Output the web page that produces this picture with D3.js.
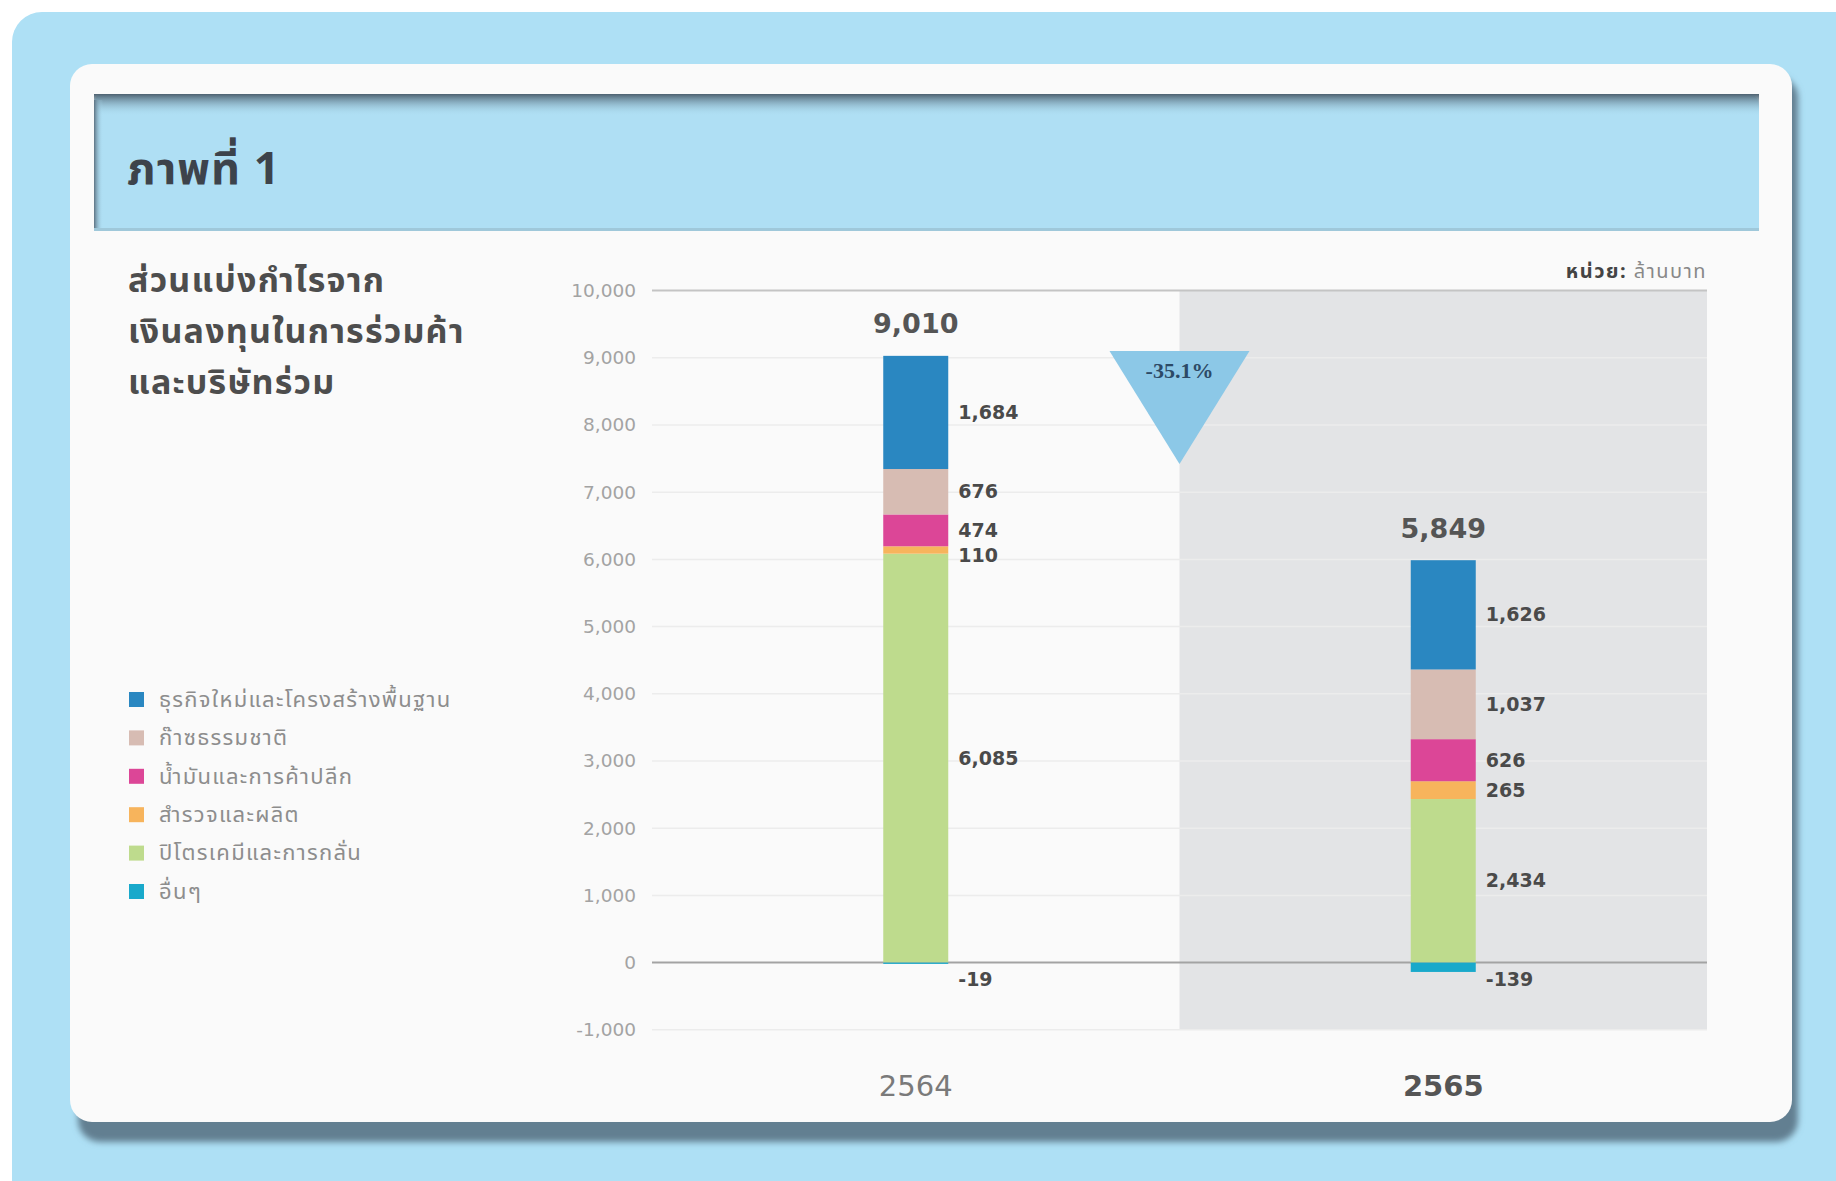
<!DOCTYPE html>
<html>
<head>
<meta charset="utf-8">
<script src="https://cdn.jsdelivr.net/npm/d3@7"></script>
<style>
  html, body { margin: 0; padding: 0; background: #ffffff; }
  svg { display: block; }
</style>
</head>
<body>
<div id="chart"></div>
<script>
// data (unit: million baht)
const years = ["2564", "2565"];
const segmentNames = [
  "ธุรกิจใหม่และโครงสร้างพื้นฐาน",
  "ก๊าซธรรมชาติ",
  "น้ำมันและการค้าปลีก",
  "สำรวจและผลิต",
  "ปิโตรเคมีและการกลั่น",
  "อื่นๆ"
];
const segmentColors = ["#2a87c1", "#d7bcb3", "#dc4697", "#f7b45c", "#bedb8d", "#19a9cb"];
const newBusiness = [1684, 1626];
const naturalGas = [676, 1037];
const oilRetail = [474, 626];
const exploration = [110, 265];
const petrochem = [6085, 2434];
const others = [-19, -139];
const totals = [9010, 5849];
const yTicks = [-1000, 0, 1000, 2000, 3000, 4000, 5000, 6000, 7000, 8000, 9000, 10000];

const W = 1836, H = 1181;
const plot = { left: 652, right: 1707, top: 290.6, bottom: 1029.8 };
const thai = "'Noto Sans Thai', 'Noto Sans', sans-serif";

const svg = d3.select("#chart").append("svg").attr("width", W).attr("height", H);
const defs = svg.append("defs");

// frame: outer blue, white card, header band
svg.append("rect").attr("x", 12).attr("y", 12).attr("width", 1860).attr("height", 1220)
  .attr("rx", 30).attr("fill", "#aee0f5");

const blur = defs.append("filter").attr("id", "blur").attr("x", "-5%").attr("y", "-5%").attr("width", "110%").attr("height", "110%");
blur.append("feGaussianBlur").attr("stdDeviation", 3);

svg.append("rect").attr("x", 78).attr("y", 76).attr("width", 1720).attr("height", 1066)
  .attr("rx", 22).attr("fill", "#627f91").attr("filter", "url(#blur)");
svg.append("rect").attr("x", 70).attr("y", 64).attr("width", 1722).attr("height", 1058)
  .attr("rx", 22).attr("fill", "#fafafa");

const topShade = defs.append("linearGradient").attr("id", "topShade").attr("x1", 0).attr("y1", 0).attr("x2", 0).attr("y2", 1);
topShade.append("stop").attr("offset", "0%").attr("stop-color", "#4d6170");
topShade.append("stop").attr("offset", "100%").attr("stop-color", "#afdff4").attr("stop-opacity", 0);
const leftShade = defs.append("linearGradient").attr("id", "leftShade").attr("x1", 0).attr("y1", 0).attr("x2", 1).attr("y2", 0);
leftShade.append("stop").attr("offset", "0%").attr("stop-color", "#5d7383");
leftShade.append("stop").attr("offset", "100%").attr("stop-color", "#afdff4").attr("stop-opacity", 0);

svg.append("path").attr("fill", "#afdff4")
  .attr("d", "M94,231 L94,104 Q94,94 104,94 L1747,94 Q1759,94 1759,106 L1759,231 Z");
svg.append("rect").attr("x", 94).attr("y", 94).attr("width", 1665).attr("height", 22).attr("fill", "url(#topShade)");
svg.append("rect").attr("x", 94).attr("y", 100).attr("width", 9).attr("height", 131).attr("fill", "url(#leftShade)");
svg.append("rect").attr("x", 94).attr("y", 228).attr("width", 1665).attr("height", 3).attr("fill", "#9fc8da");

svg.append("text").attr("x", 127).attr("y", 184)
  .attr("font-family", thai).attr("font-size", 45).attr("letter-spacing", 1)
  .attr("font-weight", "bold").attr("fill", "#3d434b").text("ภาพที่ 1");

// chart title
const titleLines = ["ส่วนแบ่งกำไรจาก", "เงินลงทุนในการร่วมค้า", "และบริษัทร่วม"];
svg.append("g").selectAll("text").data(titleLines).join("text")
  .attr("x", 128).attr("y", (d, i) => 292 + i * 51)
  .attr("font-family", thai).attr("font-size", 34).attr("letter-spacing", 1.2)
  .attr("font-weight", "bold").attr("fill", "#4d4d4d").text(d => d);

// legend
const legend = svg.append("g").selectAll("g").data(segmentNames).join("g")
  .attr("transform", (d, i) => `translate(129,${699 + i * 38.4})`);
legend.append("rect").attr("x", 0).attr("y", -7).attr("width", 15).attr("height", 15)
  .attr("fill", (d, i) => segmentColors[i]);
legend.append("text").attr("x", 30).attr("dy", "0.35em")
  .attr("font-family", thai).attr("font-size", 22).attr("letter-spacing", 1.3)
  .attr("fill", "#8d8d8d").text(d => d);

// scales
const x = d3.scaleBand().domain(years).range([plot.left, plot.right]).padding(0);
const y = d3.scaleLinear().domain([-1000, 10000]).range([plot.bottom, plot.top]);
const barW = 65;
const fmt = v => d3.format(",")(v).replace("\u2212", "-");

// shaded background for the latest year
svg.append("rect").attr("x", x("2565")).attr("y", y(10000))
  .attr("width", x.bandwidth()).attr("height", y(-1000) - y(10000)).attr("fill", "#e3e4e6");

// gridlines
svg.append("g").selectAll("line").data(yTicks).join("line")
  .attr("x1", plot.left).attr("x2", plot.right)
  .attr("y1", d => y(d)).attr("y2", d => y(d))
  .attr("stroke", d => d === 0 ? "#a3a3a3" : d === 10000 ? "#c4c4c4" : "#ececec")
  .attr("stroke-width", d => (d === 0 || d === 10000) ? 2 : 1.5);

// y axis labels
const yAxis = svg.append("g").attr("transform", `translate(${plot.left - 13},0)`)
  .call(d3.axisLeft(y).tickValues(yTicks).tickSize(0).tickFormat(fmt));
yAxis.select(".domain").remove();
yAxis.selectAll("text").attr("font-family", "'DejaVu Sans', sans-serif").attr("font-size", 18.5)
  .attr("fill", "#a3a3a3");

// stacked bars
const keys = ["petrochem", "exploration", "oilRetail", "naturalGas", "newBusiness", "others"];
const keyColor = {
  petrochem: segmentColors[4], exploration: segmentColors[3], oilRetail: segmentColors[2],
  naturalGas: segmentColors[1], newBusiness: segmentColors[0], others: segmentColors[5]
};
const rows = years.map((yr, i) => ({
  year: yr, petrochem: petrochem[i], exploration: exploration[i], oilRetail: oilRetail[i],
  naturalGas: naturalGas[i], newBusiness: newBusiness[i], others: others[i]
}));
const series = d3.stack().keys(keys).offset(d3.stackOffsetDiverging)(rows);

const cx = yr => x(yr) + x.bandwidth() / 2;

svg.append("g").selectAll("g").data(series).join("g")
  .attr("fill", s => keyColor[s.key])
  .selectAll("rect").data(s => s).join("rect")
  .attr("x", d => cx(d.data.year) - barW / 2)
  .attr("width", barW)
  .attr("y", d => y(Math.max(d[0], d[1])))
  .attr("height", d => Math.abs(y(d[0]) - y(d[1])));

// segment value labels, pushed apart so they do not overlap
years.forEach((yr, i) => {
  const labels = series.map(s => {
    const d = s[i];
    const v = d.data[s.key];
    let ly = y((d[0] + d[1]) / 2);
    if (v < 0) ly = Math.max(ly, y(0) + 17);
    return { v, ly };
  });
  const pos = labels.filter(l => l.v >= 0).sort((a, b) => a.ly - b.ly);
  for (let k = 1; k < pos.length; k++) {
    if (pos[k].ly - pos[k - 1].ly < 25) pos[k].ly = pos[k - 1].ly + 25;
  }
  svg.append("g").selectAll("text").data(labels).join("text")
    .attr("x", cx(yr) + barW / 2 + 10).attr("y", d => d.ly).attr("dy", "0.35em")
    .attr("font-family", "'DejaVu Sans', sans-serif").attr("font-size", 19)
    .attr("font-weight", "bold").attr("fill", "#4a4a4a")
    .text(d => fmt(d.v));

  const top = d3.sum(labels.filter(l => l.v > 0), l => l.v);
  svg.append("text").attr("x", cx(yr)).attr("y", y(top) - 32).attr("dy", "0.35em")
    .attr("text-anchor", "middle").attr("font-family", "'DejaVu Sans', sans-serif")
    .attr("font-size", 27).attr("font-weight", "bold").attr("fill", "#555")
    .text(fmt(totals[i]));
});

// x labels
svg.append("g").selectAll("text").data(years).join("text")
  .attr("x", d => cx(d)).attr("y", 1096).attr("text-anchor", "middle")
  .attr("font-family", "'DejaVu Sans', sans-serif").attr("font-size", 29)
  .attr("font-weight", (d, i) => i === 1 ? "bold" : "normal")
  .attr("fill", (d, i) => i === 1 ? "#555" : "#7a7a7a").text(d => d);

// unit label
const unit = svg.append("text").attr("x", plot.right).attr("y", 278).attr("text-anchor", "end")
  .attr("font-family", thai).attr("font-size", 20).attr("letter-spacing", 1.5);
unit.append("tspan").attr("font-weight", "bold").attr("fill", "#444").text("หน่วย: ");
unit.append("tspan").attr("fill", "#888").text("ล้านบาท");

// change marker between the years
const change = (totals[1] / totals[0] - 1) * 100;
const tx = x("2565"), tTop = y(9100);
svg.append("path").attr("fill", "#8cc8e7")
  .attr("d", `M${tx - 70},${tTop} L${tx + 70},${tTop} L${tx},${tTop + 113} Z`);
svg.append("text").attr("x", tx).attr("y", tTop + 27).attr("text-anchor", "middle")
  .attr("font-family", "'Liberation Serif', serif").attr("font-size", 22).attr("font-weight", "bold")
  .attr("fill", "#2c4a66").text(change.toFixed(1) + "%");
</script>
</body>
</html>
